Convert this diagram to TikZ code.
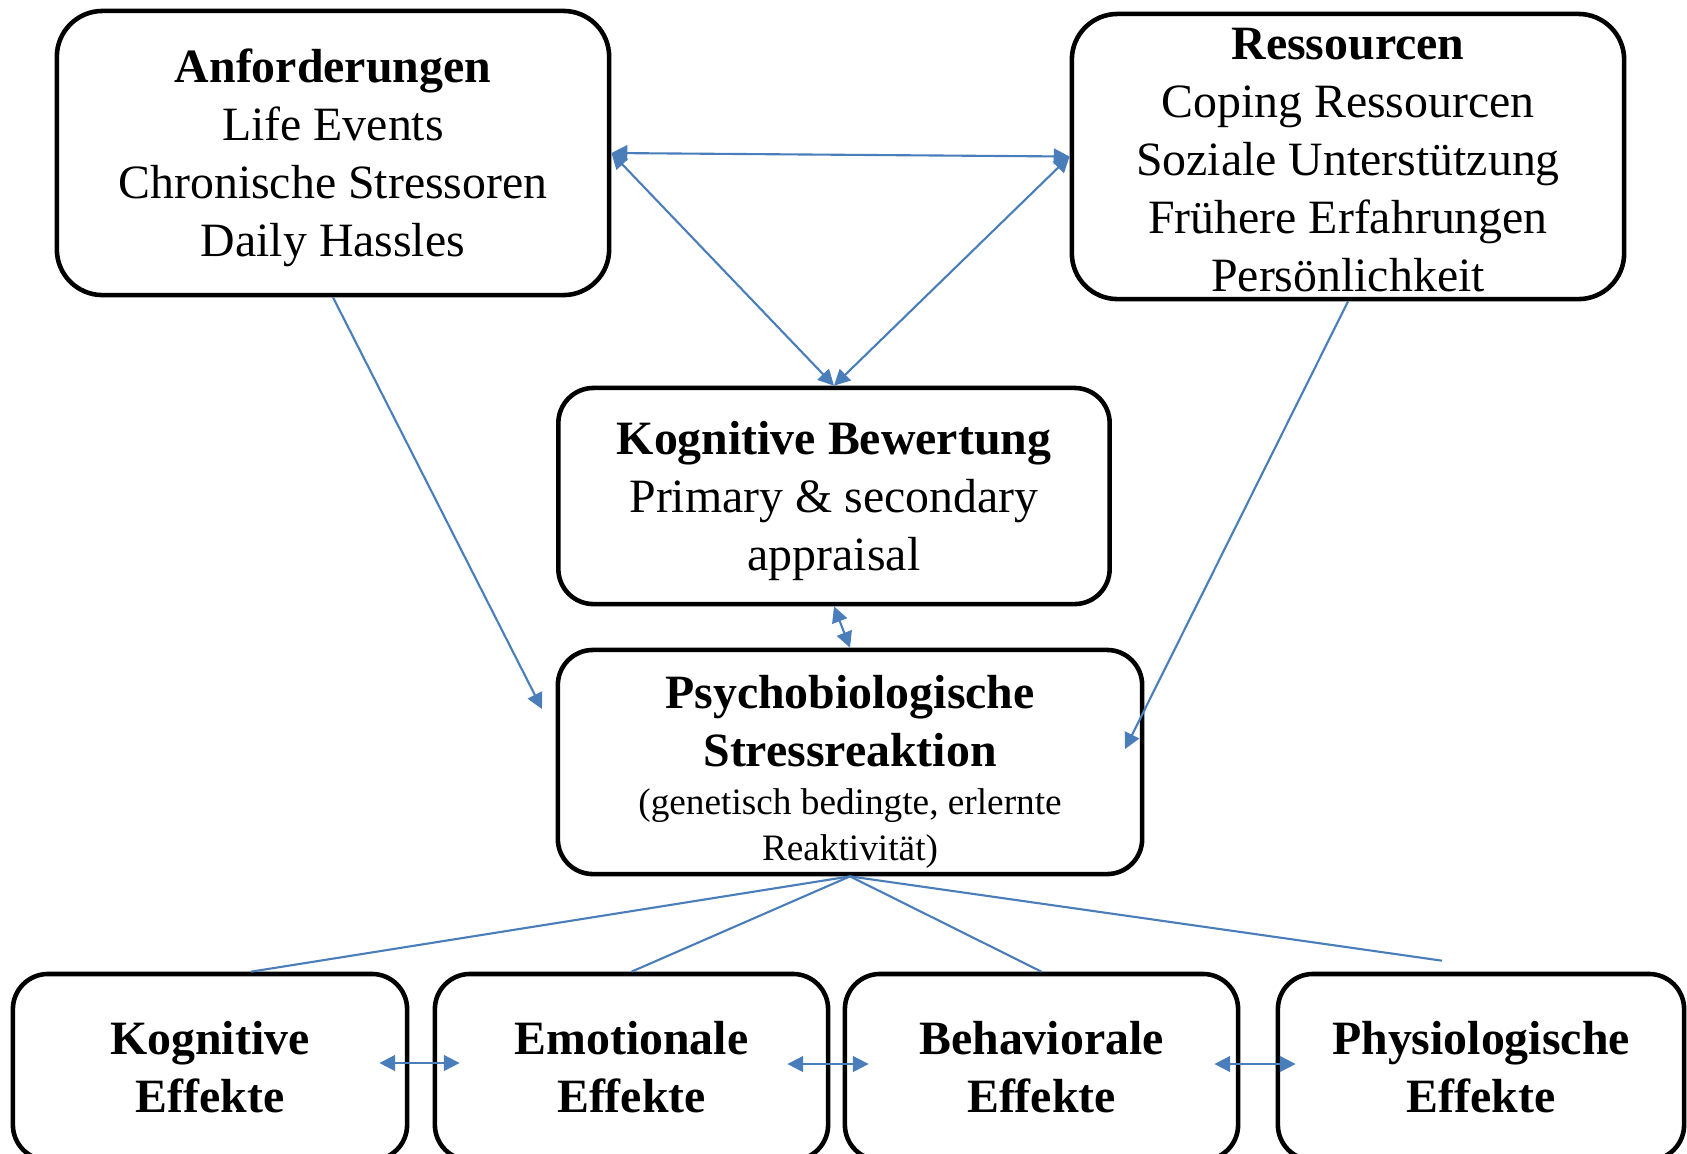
\documentclass[tikz,border=0pt]{standalone}
\usepackage{fontspec}
\setmainfont{Liberation Serif}
\usetikzlibrary{arrows.meta}
\definecolor{linkblue}{HTML}{4A7EBB}
% uniform line height, as in the word processor boxes
\newcommand{\lnstrut}[1][0pt]{\rule[-3.5pt]{0pt}{\dimexpr 16.3pt + #1\relax}}

\begin{document}
\begin{tikzpicture}[x=0.01cm, y=-0.01cm,
        box/.style={draw, line width=1.3pt, rounded corners=#1, align=center, inner sep=0pt,
            font=\fontsize{13.6}{16.5}\selectfont},
        box/.default=10pt,
        link/.style={draw=linkblue, line width=0.6pt},
        twohead/.style={link, {Triangle[length=4.5pt, width=4.5pt]}-{Triangle[length=4.5pt, width=4.5pt]}},
        onehead/.style={link, -{Triangle[length=4.5pt, width=4.5pt]}}]
                \useasboundingbox (0, 0) rectangle (1687, 1153);
                \clip (0, 0) rectangle (1687, 1153);

                \node [box=13pt, minimum width=5.52cm, minimum height=2.84cm] (anf) at (333, 153)
                    {\lnstrut\textbf{Anforderungen}\\ Life Events\\ Chronische Stressoren\\ Daily Hassles\lnstrut};
                \node [box=13pt, minimum width=5.52cm, minimum height=2.85cm] (res) at (1348, 156.5)
                    {\rule{0pt}{10.8pt}\textbf{Ressourcen}\\ Coping Ressourcen\\ Soziale Unterstützung\\ Frühere Erfahrungen\\ Persönlichkeit};
                \node [box, minimum width=5.51cm, minimum height=2.16cm] (bew) at (834, 496)
                    {\lnstrut\textbf{Kognitive Bewertung}\\ Primary \& secondary\\ appraisal\lnstrut};
                \node [box, minimum width=5.84cm, minimum height=2.24cm] (psy) at (850, 762)
                    {\lnstrut[3.4pt]\textbf{Psychobiologische}\\ \textbf{Stressreaktion}\\[-2.8pt]
                     {\fontsize{10.6}{13}\selectfont (genetisch bedingte, erlernte}\\[-3.4pt]
                     {\fontsize{10.6}{13}\selectfont Reaktivität)}\lnstrut};

                \node [box, minimum width=3.94cm, minimum height=1.86cm] (kog) at (210, 1067) {\lnstrut\textbf{Kognitive}\\ \textbf{Effekte}\lnstrut};
                \node [box, minimum width=3.93cm, minimum height=1.86cm] (emo) at (631.5, 1067) {\lnstrut\textbf{Emotionale}\\ \textbf{Effekte}\lnstrut};
                \node [box, minimum width=3.93cm, minimum height=1.86cm] (beh) at (1041.5, 1067) {\lnstrut\textbf{Behaviorale}\\ \textbf{Effekte}\lnstrut};
                \node [box, minimum width=4.06cm, minimum height=1.86cm] (phy) at (1481, 1067) {\lnstrut\textbf{Physiologische}\\ \textbf{Effekte}\lnstrut};

                \coordinate (anfend) at (542, 709);
                \coordinate (resend) at (1125, 749);

                \draw [twohead] (anf.east) -- (res.west);
                \draw [twohead] (anf.east) -- (bew.north);
                \draw [twohead] (res.west) -- (bew.north);
                \draw [twohead] (bew.south) -- (psy.north);
                \draw [onehead] (anf.south) -- (anfend);
                \draw [onehead] (res.south) -- (resend);

                \draw [link] (psy.south) -- ([shift={(41, 0)}]kog.north);
                \draw [link] (psy.south) -- (emo.north);
                \draw [link] (psy.south) -- (beh.north);
                \draw [link] (psy.south) -- ([shift={(-39, -11)}]phy.north);

                \draw [twohead] ([shift={(-30, -4)}]kog.east) -- ([shift={(27, -4)}]emo.west);
                \draw [twohead] ([shift={(-43, -3)}]emo.east) -- ([shift={(26, -3)}]beh.west);
                \draw [twohead] ([shift={(-26, -3)}]beh.east) -- ([shift={(20, -3)}]phy.west);
            \end{tikzpicture}
\end{document}
